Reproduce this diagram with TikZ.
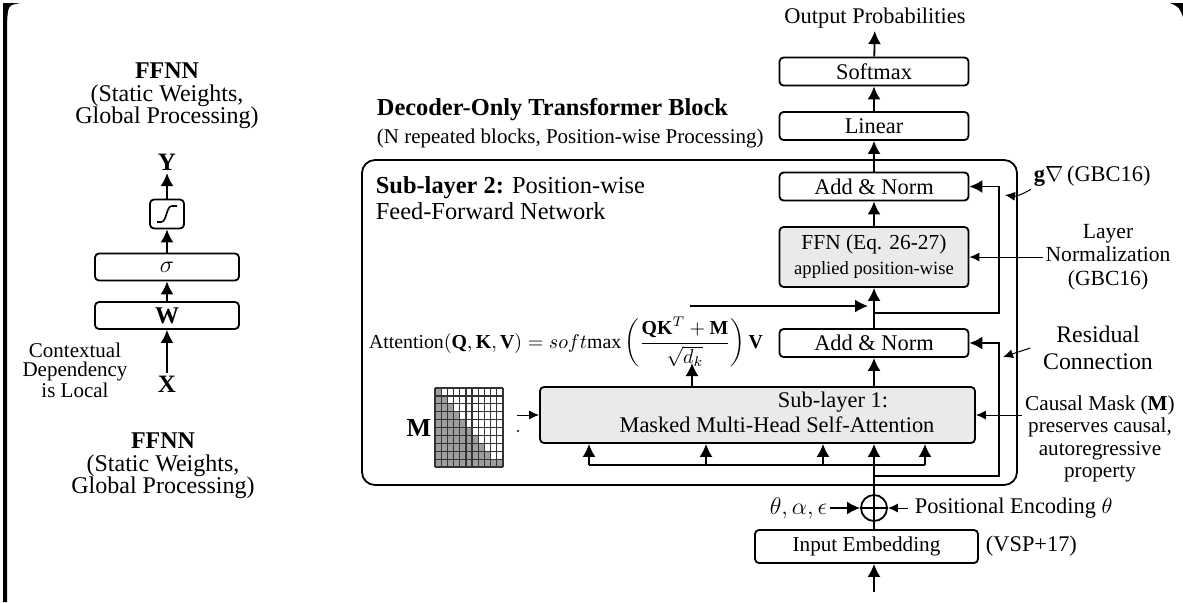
\documentclass[tikz,border=0pt]{standalone}
\usepackage{fontspec}
\setmainfont{Liberation Serif}
\usepackage{amsmath}
\usetikzlibrary{arrows.meta,positioning}
\definecolor{boxgray}{RGB}{234,234,234}
\definecolor{maskgray}{RGB}{158,158,158}
\tikzset{
  lbl/.style={inner sep=1pt, font=\fontsize{11.2}{12.5}\selectfont},
  blk/.style={draw, rounded corners=2pt, line width=0.9pt, inner sep=0pt, minimum width=94.5pt, minimum height=14pt, font=\fontsize{11.2}{12.5}\selectfont},
  gblk/.style={blk, fill=boxgray},
  ffblk/.style={draw, rounded corners=2pt, line width=0.9pt, inner sep=0pt, minimum width=72pt, minimum height=13.5pt, font=\fontsize{12}{13}\selectfont},
  note/.style={align=center, inner sep=1pt},
  thinarr/.style={line width=0.5pt, -{Latex[length=5pt,width=4.5pt]}},
}

\begin{document}
\begin{tikzpicture}[x=0.5pt, y=-0.5pt, line width=0.9pt, >={Latex[length=6.5pt,width=6.5pt]}]
	\useasboundingbox (0,0) rectangle (1183,602);
	\fill (3,3) -- (21,3) .. controls (8,5) .. (7,24) -- (7,602) -- (3,602) -- cycle;%frame left
	\fill (1170,3) -- (1183,3) -- (1183,17) .. controls (1179,7) .. (1170,3) -- cycle;%frame right

	%left: FFNN
	\node[note, font=\fontsize{12}{11.3}\selectfont] (ffnntop) at (167,96) {\textbf{FFNN}\\(Static Weights,\\Global Processing)};
	\node[font=\bfseries\fontsize{12.5}{13}\selectfont, inner sep=1pt] (Y) at (167,162) {Y};
	\node[ffblk, minimum width=17pt, minimum height=14.5pt] (sig) at (167,214) {};
	\draw[line width=0.8pt] (157,222) -- (161,222) .. controls (167,222) and (166,206) .. (172,206) -- (177,206);%sigmoid
	\node[ffblk] (sgm) at (167,267) {$\sigma$};
	\node[ffblk] (wbox) at (167,315.5) {\textbf{W}};
	\node[font=\bfseries\fontsize{12.5}{13}\selectfont, inner sep=1pt] (X) at (167,384) {X};
	\node[note, font=\fontsize{10.5}{9.4}\selectfont] (ctx) at (75,370) {Contextual\\Dependency\\is Local};
	\node[note, font=\fontsize{12}{11.3}\selectfont] (ffnnbot) at (163,466) {\textbf{FFNN}\\(Static Weights,\\Global Processing)};
	\draw[->] (X) -- (wbox);
	\draw[->] (wbox) -- (sgm);
	\draw[->] (sgm) -- (sig);
	\draw[->] (sig) -- (Y);

	%right: decoder block
	\draw[rounded corners=6.5pt] (362,160) rectangle (1017,485);%outer block
	\node[anchor=west, inner sep=0pt, font=\bfseries\fontsize{12.2}{14}\selectfont] (dtitle) at (376,110) {Decoder-Only Transformer Block};
	\node[anchor=west, inner sep=0pt, font=\fontsize{10.5}{12}\selectfont] (dsub) at (376,138) {(N repeated blocks, Position-wise Processing)};
	\node[anchor=west, inner sep=0pt, align=left, font=\fontsize{12.2}{13}\selectfont] (sub2) at (375,198) {\textbf{Sub-layer 2:} Position-wise\\Feed-Forward Network};

	\node[lbl] (outp) at (875,18) {Output Probabilities};
	\node[blk] (smax) at (874,71.5) {Softmax};
	\node[blk] (lin) at (874,126) {Linear};
	\node[blk] (an2) at (874,186.5) {Add \& Norm};
	\node[gblk, minimum height=30pt, align=center, font=\fontsize{10.7}{12.5}\selectfont] (ffn) at (874,257) {FFN (Eq. 26-27)\\{\fontsize{9.3}{10}\selectfont applied position-wise}};
	\node[blk] (an1) at (874,343) {Add \& Norm};
	\node[gblk, minimum width=217.5pt, minimum height=28pt] (sub1) at (757.5,415) {};
	\node[lbl] (sub1a) at (833,402) {Sub-layer 1:};
	\node[lbl] (sub1b) at (777,425) {Masked Multi-Head Self-Attention};
	\node[blk, minimum width=111.5pt, minimum height=16.5pt, font=\fontsize{10.6}{12}\selectfont] (emb) at (866.5,546.5) {Input Embedding};
	\node[draw, circle, minimum size=13pt, inner sep=0pt, path picture={
		\draw (path picture bounding box.west) -- (path picture bounding box.east);
		\draw (path picture bounding box.north) -- (path picture bounding box.south);}] (plus) at (874,508) {};

	\draw[->] (smax) -- (outp);
	\draw[->] (lin) -- (smax);
	\draw[->] (an2) -- (lin);
	\draw[->] (ffn) -- (an2);
	\draw[->] (an1) -- (ffn);
	\draw[->] (sub1.north -| an1) -- (an1);
	\draw[->] (plus) -- (sub1.south -| plus);
	\draw (emb.north -| plus) -- (plus);
	\coordinate (src) at (874,592);
	\draw[->] (src) -- (emb.south -| src);

	%residual connections
	\coordinate (rx) at (999,0);
	\coordinate (r2) at (874,313);
	\coordinate (r1) at (874,476);
	\draw[->] (r2) -| (rx |- an2.east) -- (an2.east);
	\draw[->] (r1) -| (rx |- an1.east) -- (an1.east);

	%attention inputs
	\draw (589,465) -- (925,465);
	\foreach \x in {589,706,823,925}
		\draw[->] (\x,465) -- (sub1.south -| \x,465);

	%attention formula
	\node[inner sep=0pt, font=\fontsize{9.9}{11}\selectfont] (attn) at (566,342) {Attention$(\mathbf{Q},\mathbf{K},\mathbf{V}) = soft\mathrm{max}\left(\dfrac{\mathbf{QK}^T+\mathbf{M}}{\sqrt{d_k}}\right)\mathbf{V}$};
	\coordinate (atip) at (692,363);
	\draw[->] (sub1.north -| atip) -- (atip);
	\coordinate (aout) at (690,306);
	\draw[->] (aout) -- ([xshift=-3pt]aout -| an1.north);

	%mask matrix
	\node[font=\bfseries\fontsize{13}{14}\selectfont, inner sep=1pt] (mlab) at (419,428) {M};
	\foreach \r in {1,...,10}{
		\pgfmathtruncatemacro\k{1.1*\r+0.01}
		\fill[maskgray] (435,{388+(\r-1)*7.9}) rectangle ({435+\k*6.18},{388+\r*7.9});
	}
	\foreach \c in {0,...,11}
		\draw[line width=0.6pt, black!80] ({435+\c*6.18},388) -- ({435+\c*6.18},467);
	\foreach \r in {0,...,10}
		\draw[line width=0.6pt, black!80] (435,{388+\r*7.9}) -- (503,{388+\r*7.9});
	\coordinate (mtail) at (517,415);
	\draw[thinarr] (mtail) -- (sub1.west |- mtail);
	\fill (518,431) circle (0.6pt);

	%positional encoding
	\node[anchor=east, inner sep=1pt, font=\fontsize{11.5}{12}\selectfont] (thetas) at (830,508) {$\theta,\alpha,\epsilon$};
	\draw[->] (thetas) -- (plus);
	\node[lbl, anchor=west] (penc) at (912,508) {Positional Encoding $\theta$};
	\draw[thinarr] ([xshift=-2pt]penc.west) -- (plus);
	\node[lbl, anchor=west] (vsp) at (983,546) {(VSP+17)};

	%annotations
	\node[lbl, anchor=west] (gnab) at (1031,176) {$\mathbf{g}\nabla$\,(GBC16)};
	\coordinate (gtip) at (1005,195);
	\draw[thinarr] (gnab.south west) to[bend left=20] (gtip);
	\node[note, font=\fontsize{10.8}{11.75}\selectfont] (lnorm) at (1108,257) {Layer\\Normalization\\(GBC16)};
	\draw[thinarr] (lnorm.west) -- (ffn.east);
	\node[note, font=\fontsize{11.9}{13.5}\selectfont] (rescon) at (1098,348) {Residual\\Connection};
	\coordinate (rtip) at (1003,357);
	\draw[thinarr] ([xshift=-5pt]rescon.west) -- (rtip);
	\node[note, font=\fontsize{10.6}{11.25}\selectfont] (cmask) at (1100,439) {Causal Mask (\textbf{M})\\preserves causal,\\autoregressive\\property};
	\draw[thinarr] (cmask.west |- sub1.east) -- (sub1.east);
\end{tikzpicture}
\end{document}
